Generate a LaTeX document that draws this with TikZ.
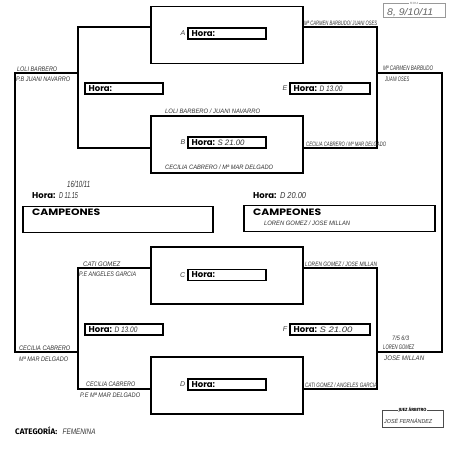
\documentclass[tikz,border=0pt]{standalone}
\usepackage{fontspec}
\usepackage{graphicx}
\newfontfamily\horaf{Poppins}
\newfontfamily\handf{Liberation Sans}
\newfontfamily\catf{Fira Sans}
\newcommand\hw[3][4.6]{\resizebox{#2pt}{#1pt}{\handf\itshape #3}}
\begin{document}
\begin{tikzpicture}[x=1pt,y=-1pt,
  matchbox/.style={draw,line width=1.4pt,minimum width=152pt,minimum height=57pt,inner sep=0pt},
  horabox/.style={draw,line width=1.1pt,minimum width=78pt,minimum height=11pt,inner sep=0pt},
  champbox/.style={draw,line width=1.3pt,minimum height=26pt,inner sep=0pt},
  bracket/.style={line width=1.1pt},
  frame/.style={line width=1.4pt},
  hora/.style={font=\horaf\bfseries\fontsize{8.5}{9}\selectfont,inner sep=0pt,anchor=west},
  hand/.style={text=black!80,inner sep=0pt,anchor=base west},
  letter/.style={font=\handf\itshape\fontsize{7}{7}\selectfont,text=black!75,inner sep=0pt,anchor=east}]
\useasboundingbox (0,0) rectangle (451,451);
\fill[white] (0,0) rectangle (451,451);

% match boxes
\node[matchbox] (A) at (227,35) {};
\node[matchbox] (B) at (227,144.5) {};
\node[matchbox] (C) at (227,275.5) {};
\node[matchbox] (D) at (227,385.5) {};

% inner hora boxes
\node[horabox] (hA) at (227,33.5) {};
\node[horabox] (hB) at (227,142.5) {};
\node[horabox] (hC) at (227,275) {};
\node[horabox] (hD) at (227,384.5) {};
\node[horabox] (hL1) at (124,88.5) {};
\node[horabox,minimum width=80pt] (hE) at (330,88.5) {};
\node[horabox] (hL2) at (124,329.5) {};
\node[horabox,minimum width=80pt] (hF) at (330,329.5) {};

\foreach \n in {hA,hB,hC,hD,hL1,hE,hL2,hF}
  \node[hora] (t\n) at ([xshift=4pt]\n.west) {Hora:};

\node[hand,anchor=west] at ([xshift=2pt]thB.east) {\hw[5.5]{27}{S 21.00}};
\node[hand,anchor=west] at ([xshift=2pt]thE.east) {\hw[5.5]{23}{D 13.00}};
\node[hand,anchor=west] at ([xshift=2pt]thL2.east) {\hw[5.5]{23}{D 13.00}};
\node[hand,anchor=west] at ([xshift=2pt]thF.east) {\hw[5.5]{33}{S 21.00}};

\node[letter] at ([xshift=-2pt]hA.west) {A};
\node[letter] at ([xshift=-2pt]hB.west) {B};
\node[letter] at ([xshift=-2pt]hC.west) {C};
\node[letter] at ([xshift=-2pt]hD.west) {D};
\node[letter] at ([xshift=-2pt]hE.west) {E};
\node[letter] at ([xshift=-2pt]hF.west) {F};

% brackets
\coordinate (lt) at (78,27);
\coordinate (lb) at (78,148);
\coordinate (rt) at (377,27);
\coordinate (rb) at (377,148);
\coordinate (lt2) at (78,268);
\coordinate (lb2) at (78,389);
\coordinate (rt2) at (377,268);
\coordinate (rb2) at (377,389);
\draw[bracket] (A.west |- lt) -- (lt) -- (lb) -- (B.west |- lb);
\draw[bracket] (A.east |- rt) -- (rt) -- (rb) -- (B.east |- rb);
\draw[bracket] (C.west |- lt2) -- (lt2) -- (lb2) -- (D.west |- lb2);
\draw[bracket] (C.east |- rt2) -- (rt2) -- (rb2) -- (D.east |- rb2);

% outer frames
\coordinate (lo1) at (78,73);
\coordinate (lo2) at (78,352);
\coordinate (ro1) at (377,73);
\coordinate (ro2) at (377,352);
\draw[frame] (lo1) -- (15,73) -- (15,352) -- (lo2);
\draw[frame] (ro1) -- (442,73) -- (442,352) -- (ro2);

% campeones
\node[champbox,minimum width=190pt] (CL) at (118,219.5) {};
\node[champbox,minimum width=191pt] (CR) at (339.5,218.5) {};
\node[inner sep=0pt,anchor=base west] (tCL) at (32,215.5) {\resizebox{68pt}{6.6pt}{\horaf\bfseries CAMPEONES}};
\node[inner sep=0pt,anchor=base west] (tCR) at (253,215.5) {\resizebox{68pt}{6.6pt}{\horaf\bfseries CAMPEONES}};
\node[hora] (hcl) at (32,196) {Hora:};
\node[hora] (hcr) at (253,196) {Hora:};
\node[hand,anchor=west] at ([xshift=3pt]hcl.east) {\hw[6]{19}{D 11.15}};
\node[hand,anchor=west] at ([xshift=3pt]hcr.east) {\hw[6]{26}{D 20.00}};
\node[hand] at (67,187) {\hw[6.5]{23}{16/10/11}};
\node[hand] at (264,225) {\hw{86}{LOREN GOMEZ / JOSE MILLAN}};

% handwritten names
\node[hand] at (17,71) {\hw{40}{LOLI BARBERO}};
\node[hand] at (16,81) {\hw{54}{P.B JUANI NAVARRO}};
\node[hand] at (304,25.5) {\hw{73}{Mª CARMEN BARBUDO/ JUANI OSES}};
\node[hand] at (383,70) {\hw{50}{Mª CARMEN BARBUDO}};
\node[hand] at (385,81) {\hw{24}{JUANI OSES}};
\node[hand] at (165,113) {\hw{95}{LOLI BARBERO / JUANI NAVARRO}};
\node[hand] at (165,169) {\hw{108}{CECILIA CABRERO / Mª MAR DELGADO}};
\node[hand] at (306,146) {\hw{80}{CECILIA CABRERO / Mª MAR DELGADO}};
\node[hand] at (83,266) {\hw{37}{CATI GOMEZ}};
\node[hand] at (79,276) {\hw{57}{P.E ANGELES GARCIA}};
\node[hand] at (305,266.5) {\hw{72}{LOREN GOMEZ / JOSE MILLAN}};
\node[hand] at (19,350) {\hw{51}{CECILIA CABRERO}};
\node[hand] at (19,361) {\hw{49}{Mª MAR DELGADO}};
\node[hand] at (86,386.5) {\hw{49}{CECILIA CABRERO}};
\node[hand] at (80,397) {\hw{60}{P.E Mª MAR DELGADO}};
\node[hand] at (392,340) {\hw{17}{7/5 6/3}};
\node[hand] at (383,349.5) {\hw{31}{LOREN GOMEZ}};
\node[hand] at (384,360) {\hw{40}{JOSE MILLAN}};
\node[hand] at (305,387) {\hw{72}{CATI GOMEZ / ANGELES GARCIA}};

% categoria
\node[font=\catf\bfseries\fontsize{8}{8}\selectfont,inner sep=0pt,anchor=base west] (cat) at (15,434) {CATEGORÍA:};
\node[hand,anchor=base west] at ([xshift=5pt]cat.base east) {\hw[5.5]{33}{FEMENINA}};

% juez arbitro
\node[draw=black!70,line width=0.6pt,minimum width=61pt,minimum height=17pt,inner sep=0pt] (J) at (412.5,418.5) {};
\node[fill=white,font=\catf\bfseries\fontsize{4.5}{4.5}\selectfont,inner sep=1pt] at (J.north) {JUEZ ÁRBITRO};
\node[hand] at (384,423) {\hw[5]{48}{JOSÉ FERNÁNDEZ}};

% fecha
\node[draw=black!40,line width=0.6pt,minimum width=62pt,minimum height=14pt,inner sep=0pt] (FE) at (414,10.5) {};
\node[fill=white,text=black!50,font=\catf\fontsize{3}{3}\selectfont,inner sep=0.5pt] at (FE.north) {FECHA};
\node[hand,text=black!60] at (387,15) {\hw[7]{46}{8, 9/10/11}};
\end{tikzpicture}
\end{document}
